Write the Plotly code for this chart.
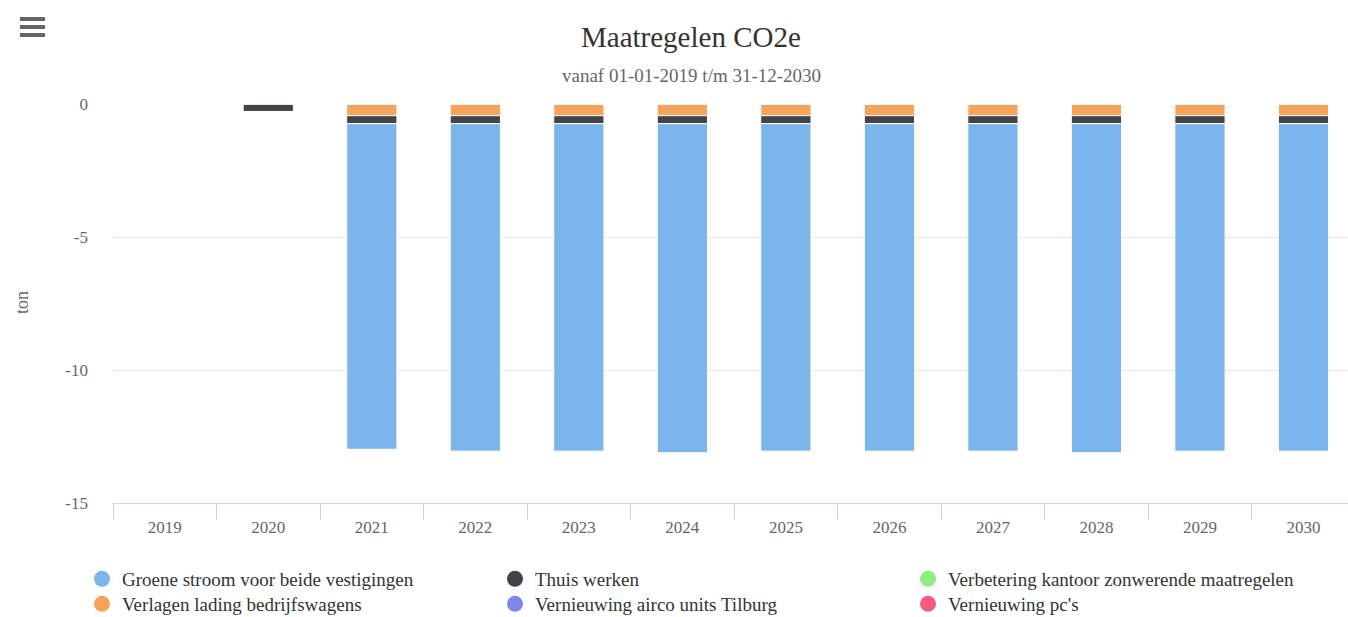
import plotly.graph_objects as go

years = [str(y) for y in range(2019, 2031)]

series_names = [
    "Groene stroom voor beide vestigingen",
    "Thuis werken",
    "Verbetering kantoor zonwerende maatregelen",
    "Verlagen lading bedrijfswagens",
    "Vernieuwing airco units Tilburg",
    "Vernieuwing pc's",
]
series_colors = ["#7cb5ec", "#434348", "#90ed7d", "#f7a35c", "#8085e9", "#f15c80"]

groene_stroom = [0, 0, -12.24, -12.31, -12.31, -12.37, -12.31, -12.31, -12.31, -12.37, -12.31, -12.31]
thuis_werken = [0, -0.28, -0.30, -0.30, -0.30, -0.30, -0.30, -0.30, -0.30, -0.30, -0.30, -0.30]
verbetering_kantoor = [0] * 12
verlagen_lading = [0, 0, -0.44, -0.44, -0.44, -0.44, -0.44, -0.44, -0.44, -0.44, -0.44, -0.44]
vernieuwing_airco = [0] * 12
vernieuwing_pcs = [0] * 12

series_values = [groene_stroom, thuis_werken, verbetering_kantoor,
                 verlagen_lading, vernieuwing_airco, vernieuwing_pcs]

FONT = "Liberation Serif"
W, H = 1348, 617
L, R, T, B = 113, 0, 104, 114
PW = W - L - R
PH = H - T - B


def px_x(px):
    return (px - L) / PW


def px_y(py):
    return (H - B - py) / PH


fig = go.Figure()

# Bars: plotly stacks the first trace closest to zero, so add in reverse order
for i in reversed(range(len(series_names))):
    fig.add_trace(go.Bar(
        x=years, y=series_values[i], name=series_names[i],
        marker=dict(color=series_colors[i], line=dict(color="#ffffff", width=1)),
        legendgroup=series_names[i], showlegend=False,
        hovertemplate="%{x}<br>" + series_names[i] + ": %{y:.2f} ton<extra></extra>",
    ))

# Legend: one single-entry legend per slot, in a 3-column grid (Highcharts-like)
legend_cols_px = [82, 495, 908]
legend_rows_px = [560, 585]
legend_layout = {}
for i, name in enumerate(series_names):
    lid = "legend" if i == 0 else "legend%d" % (i + 1)
    fig.add_trace(go.Scatter(
        x=[None], y=[None], mode="markers", name=name,
        marker=dict(color=series_colors[i], size=16, symbol="circle"),
        legendgroup=name, showlegend=True, legend=lid,
    ))
    legend_layout[lid] = dict(
        orientation="v", xanchor="left", yanchor="top",
        x=px_x(legend_cols_px[i % 3]), y=px_y(legend_rows_px[i // 3]),
        font=dict(family=FONT, size=19, color="#333333"),
        bgcolor="rgba(0,0,0,0)",
    )

fig.update_layout(
    width=W, height=H,
    margin=dict(l=L, r=R, t=T, b=B, autoexpand=False),
    paper_bgcolor="#ffffff", plot_bgcolor="#ffffff",
    barmode="relative", bargap=0.515,
    font=dict(family=FONT, color="#666666"),
    showlegend=True,
    xaxis=dict(
        type="category", range=[-0.5, 11.43],
        showgrid=False, showline=True, linecolor="#ccd6eb", linewidth=1,
        ticks="outside", tickson="boundaries", ticklen=16, tickcolor="#ccd6eb",
        ticklabelstandoff=9,
        tickfont=dict(family=FONT, size=17, color="#666666"),
        fixedrange=True, zeroline=False,
    ),
    yaxis=dict(
        range=[-15, 0], tickvals=[0, -5, -10, -15], ticktext=["0", "-5", "-10", "-15"],
        showgrid=True, gridcolor="#e6e6e6", gridwidth=1,
        zeroline=False, showline=False, ticks="",
        ticklabelstandoff=24,
        tickfont=dict(family=FONT, size=17, color="#666666"),
        fixedrange=True,
    ),
    annotations=[
        dict(text="Maatregelen CO2e", x=px_x(691), y=px_y(37), xref="paper", yref="paper",
             xanchor="center", yanchor="middle", showarrow=False,
             font=dict(family=FONT, size=29, color="#333333")),
        dict(text="vanaf 01-01-2019 t/m 31-12-2030", x=px_x(691), y=px_y(75),
             xref="paper", yref="paper", xanchor="center", yanchor="middle", showarrow=False,
             font=dict(family=FONT, size=19, color="#666666")),
        dict(text="ton", x=px_x(22), y=px_y(303), xref="paper", yref="paper",
             xanchor="center", yanchor="middle", showarrow=False, textangle=-90,
             font=dict(family=FONT, size=18, color="#666666")),
    ],
    **legend_layout,
)

# Menu (hamburger) icon
for py in (19, 27, 35):
    fig.add_shape(type="line", xref="paper", yref="paper",
                  x0=px_x(20), x1=px_x(45), y0=px_y(py), y1=px_y(py),
                  line=dict(color="#666666", width=4))

fig.write_html("out.html", config={"displayModeBar": False},
               post_script="document.body.style.margin='0px';")
